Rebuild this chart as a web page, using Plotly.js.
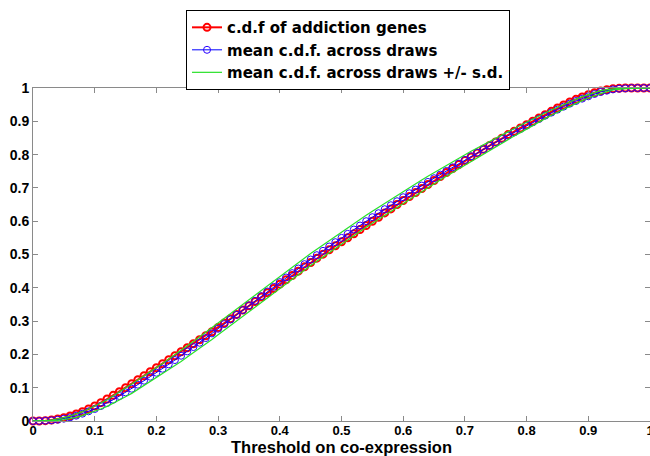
<!DOCTYPE html>
<html>
<head>
<meta charset="utf-8">
<script src="https://cdn.plot.ly/plotly-3.0.1.min.js"></script>
<style>html,body{margin:0;padding:0;background:#fff;}#chart{width:650px;height:456px;}</style>
</head>
<body>
<div id="chart"></div>
<script>
const thresholds = [0.00,0.01,0.02,0.03,0.04,0.05,0.06,0.07,0.08,0.09,0.10,0.11,0.12,0.13,0.14,0.15,0.16,0.17,0.18,0.19,0.20,0.21,0.22,0.23,0.24,0.25,0.26,0.27,0.28,0.29,0.30,0.31,0.32,0.33,0.34,0.35,0.36,0.37,0.38,0.39,0.40,0.41,0.42,0.43,0.44,0.45,0.46,0.47,0.48,0.49,0.50,0.51,0.52,0.53,0.54,0.55,0.56,0.57,0.58,0.59,0.60,0.61,0.62,0.63,0.64,0.65,0.66,0.67,0.68,0.69,0.70,0.71,0.72,0.73,0.74,0.75,0.76,0.77,0.78,0.79,0.80,0.81,0.82,0.83,0.84,0.85,0.86,0.87,0.88,0.89,0.90,0.91,0.92,0.93,0.94,0.95,0.96,0.97,0.98,0.99,1.00];

const cdfAddiction = [0.000,0.000,0.001,0.003,0.006,0.010,0.015,0.021,0.028,0.036,0.045,0.055,0.066,0.077,0.088,0.100,0.112,0.124,0.136,0.148,0.160,0.172,0.184,0.196,0.208,0.220,0.232,0.244,0.256,0.268,0.281,0.294,0.307,0.320,0.333,0.346,0.359,0.372,0.385,0.398,0.411,0.424,0.437,0.450,0.463,0.476,0.489,0.501,0.514,0.526,0.538,0.550,0.562,0.575,0.587,0.600,0.612,0.625,0.637,0.650,0.662,0.674,0.686,0.698,0.710,0.722,0.734,0.746,0.758,0.770,0.782,0.793,0.805,0.816,0.827,0.838,0.849,0.860,0.870,0.880,0.890,0.900,0.910,0.920,0.930,0.940,0.949,0.958,0.966,0.973,0.980,0.986,0.991,0.995,0.998,0.999,1.000,1.000,1.000,1.000,1.000];

const cdfMeanDraws = [0.000,0.000,0.001,0.002,0.004,0.007,0.011,0.016,0.022,0.029,0.036,0.045,0.054,0.064,0.075,0.086,0.097,0.109,0.121,0.133,0.145,0.157,0.170,0.183,0.196,0.209,0.222,0.235,0.249,0.263,0.277,0.291,0.305,0.319,0.333,0.347,0.361,0.375,0.389,0.403,0.417,0.431,0.444,0.458,0.471,0.485,0.498,0.511,0.524,0.537,0.550,0.562,0.575,0.587,0.600,0.612,0.624,0.636,0.648,0.660,0.672,0.684,0.695,0.707,0.718,0.729,0.740,0.751,0.762,0.773,0.784,0.795,0.806,0.816,0.827,0.837,0.847,0.857,0.867,0.877,0.887,0.897,0.907,0.917,0.926,0.935,0.944,0.953,0.961,0.968,0.975,0.982,0.988,0.992,0.996,0.998,0.999,1.000,1.000,1.000,1.000];

const cdfUpperSD = [0.000,0.000,0.001,0.003,0.006,0.010,0.015,0.021,0.028,0.036,0.044,0.054,0.064,0.075,0.087,0.099,0.111,0.123,0.136,0.148,0.161,0.173,0.186,0.200,0.213,0.226,0.239,0.253,0.267,0.281,0.295,0.309,0.323,0.337,0.351,0.365,0.379,0.393,0.407,0.421,0.435,0.449,0.462,0.476,0.489,0.503,0.516,0.529,0.542,0.555,0.568,0.580,0.593,0.605,0.618,0.630,0.642,0.654,0.666,0.678,0.690,0.702,0.713,0.724,0.735,0.746,0.756,0.767,0.778,0.788,0.799,0.810,0.820,0.830,0.840,0.850,0.859,0.869,0.878,0.888,0.897,0.907,0.916,0.925,0.934,0.942,0.951,0.960,0.967,0.974,0.980,0.986,0.992,0.995,0.998,0.999,1.000,1.000,1.000,1.000,1.000];

const cdfLowerSD = [0.000,0.000,0.001,0.001,0.002,0.004,0.007,0.011,0.016,0.022,0.028,0.036,0.044,0.053,0.063,0.073,0.083,0.095,0.106,0.118,0.129,0.141,0.154,0.166,0.179,0.192,0.205,0.217,0.231,0.245,0.259,0.273,0.287,0.301,0.315,0.329,0.343,0.357,0.371,0.385,0.399,0.413,0.426,0.440,0.453,0.467,0.480,0.493,0.506,0.519,0.532,0.544,0.557,0.569,0.582,0.594,0.606,0.618,0.630,0.642,0.654,0.666,0.677,0.690,0.701,0.712,0.724,0.735,0.746,0.758,0.769,0.780,0.792,0.802,0.814,0.824,0.835,0.845,0.856,0.866,0.877,0.887,0.898,0.908,0.918,0.927,0.937,0.946,0.955,0.962,0.970,0.977,0.984,0.989,0.994,0.997,0.998,0.999,1.000,1.000,1.000];

const tickVals = [0,0.1,0.2,0.3,0.4,0.5,0.6,0.7,0.8,0.9,1];
const tickText = ['0','0.1','0.2','0.3','0.4','0.5','0.6','0.7','0.8','0.9','1'];
const seriesNames = ['c.d.f of addiction genes','mean c.d.f. across draws','mean c.d.f. across draws +/- s.d.'];

const FONT = "Arial, 'Liberation Sans', sans-serif";
const LEGFONT = "'DejaVu Sans', Arial, sans-serif";
const green = 'rgb(40,225,40)';

const traces = [
  {x: thresholds, y: cdfAddiction, name: seriesNames[0], mode: 'lines+markers', cliponaxis: false,
   line: {color: 'rgb(255,0,0)', width: 2},
   marker: {symbol: 'circle-open', size: 7, color: 'rgb(255,0,0)', line: {width: 2, color: 'rgb(255,0,0)'}}},
  {x: thresholds, y: cdfMeanDraws, name: seriesNames[1], mode: 'lines+markers', cliponaxis: false,
   line: {color: 'rgb(0,0,255)', width: 1},
   marker: {symbol: 'circle-open', size: 7, color: 'rgb(40,0,255)', line: {width: 1, color: 'rgb(40,0,255)'}}},
  {x: thresholds, y: cdfUpperSD, name: seriesNames[2], mode: 'lines',
   line: {color: green, width: 1.2}},
  {x: thresholds, y: cdfLowerSD, name: seriesNames[2], mode: 'lines', showlegend: false,
   line: {color: green, width: 1.2}}
];

const axisCommon = {
  showgrid: false, zeroline: false, showline: true, mirror: 'ticks',
  linecolor: '#8a8a8a', linewidth: 1, ticks: 'inside', ticklen: 5, tickcolor: '#8a8a8a',
  tickfont: {family: FONT, size: 13, color: '#000', weight: 'bold'},
  automargin: false, ticklabeloverflow: 'allow'
};

const layout = {
  width: 650, height: 456,
  margin: {l: 33, r: 0, t: 88, b: 35},
  paper_bgcolor: '#fff', plot_bgcolor: '#fff',
  showlegend: true,
  legend: {
    x: 0.248, y: 1.234, xanchor: 'left', yanchor: 'top',
    bgcolor: '#fff', bordercolor: '#000', borderwidth: 1,
    font: {family: LEGFONT, size: 15, color: '#000', weight: 'bold'},
    itemwidth: 30, tracegroupgap: 0
  },
  xaxis: Object.assign({}, axisCommon, {
    range: [0, 1], tickvals: tickVals, ticktext: tickText,
    ticklabelstandoff: -3,
    title: {text: 'Threshold on co-expression', standoff: 6,
            font: {family: FONT, size: 16.5, color: '#000', weight: 'bold'}}
  }),
  yaxis: Object.assign({}, axisCommon, {
    range: [0, 1], tickvals: tickVals, ticktext: tickText,
    tickfont: {family: FONT, size: 14, color: '#000', weight: 'bold'}
  })
};

Plotly.newPlot('chart', traces, layout, {displayModeBar: false, staticPlot: true});
</script>
</body>
</html>
